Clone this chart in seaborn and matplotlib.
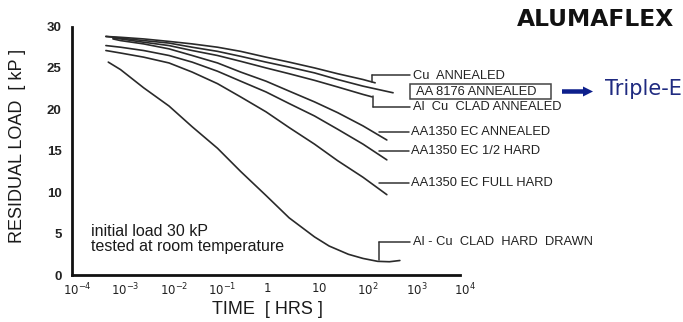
import matplotlib
matplotlib.use("Agg")
import matplotlib.pyplot as plt
from matplotlib.lines import Line2D
from matplotlib.patches import Rectangle, FancyArrow
from matplotlib.transforms import IdentityTransform, ScaledTranslation
import seaborn as sns
import pandas as pd

# ---------------- data ----------------
t_cu = [5e-4, 1e-3, 3e-3, 1e-2, 3e-2, 0.1, 0.3, 1, 3, 10, 30, 100, 178]
load_cu = [28.8, 28.7, 28.5, 28.2, 27.9, 27.5, 27.0, 26.3, 25.7, 25.0, 24.3, 23.6, 23.2]

t_aa8176 = [5e-4, 1e-3, 3e-3, 1e-2, 3e-2, 0.1, 0.3, 1, 3, 10, 30, 100, 417]
load_aa8176 = [28.8, 28.6, 28.3, 28.0, 27.5, 27.0, 26.4, 25.7, 25.1, 24.4, 23.6, 22.8, 22.0]

t_alcu_ann = [7e-4, 1e-3, 3e-3, 1e-2, 3e-2, 0.1, 0.3, 1, 3, 10, 30, 100, 155]
load_alcu_ann = [28.6, 28.5, 28.1, 27.7, 27.1, 26.5, 25.8, 25.0, 24.3, 23.5, 22.7, 21.8, 21.5]

t_ec_ann = [7e-4, 1e-3, 3e-3, 1e-2, 3e-2, 0.1, 0.3, 1, 3, 10, 30, 100, 310]
load_ec_ann = [28.5, 28.3, 27.9, 27.3, 26.5, 25.6, 24.5, 23.4, 22.2, 20.9, 19.6, 18.0, 16.3]

t_ec_half = [5e-4, 1e-3, 3e-3, 1e-2, 3e-2, 0.1, 0.3, 1, 3, 10, 30, 100, 310]
load_ec_half = [27.7, 27.5, 27.1, 26.5, 25.7, 24.6, 23.4, 22.1, 20.7, 19.2, 17.6, 15.8, 13.9]

t_ec_full = [5e-4, 1e-3, 3e-3, 1e-2, 3e-2, 0.1, 0.3, 1, 3, 10, 30, 100, 310]
load_ec_full = [27.1, 26.8, 26.3, 25.6, 24.5, 23.1, 21.5, 19.7, 17.8, 15.8, 13.8, 11.8, 9.7]

t_hard = [5.6e-4, 1e-3, 3e-3, 1e-2, 3e-2, 0.1, 0.3, 1, 3, 10, 20, 50, 100, 200, 350, 575]
load_hard = [25.7, 24.8, 22.6, 20.4, 17.9, 15.3, 12.5, 9.6, 6.9, 4.6, 3.5, 2.5, 2.0, 1.65, 1.6, 1.75]

series_names = ["Cu  ANNEALED", "AA 8176 ANNEALED", "Al  Cu  CLAD ANNEALED",
                "AA1350 EC ANNEALED", "AA1350 EC 1/2 HARD", "AA1350 EC FULL HARD",
                "Al - Cu  CLAD  HARD  DRAWN"]
series_t = [t_cu, t_aa8176, t_alcu_ann, t_ec_ann, t_ec_half, t_ec_full, t_hard]
series_y = [load_cu, load_aa8176, load_alcu_ann, load_ec_ann, load_ec_half, load_ec_full, load_hard]

x_ticks = [1e-4, 1e-3, 1e-2, 1e-1, 1, 10, 1e2, 1e3, 1e4]
x_tick_labels = [r"$10^{-4}$", r"$10^{-3}$", r"$10^{-2}$", r"$10^{-1}$", r"$1$", r"$10$",
                 r"$10^{2}$", r"$10^{3}$", r"$10^{4}$"]
y_ticks = [0, 5, 10, 15, 20, 25, 30]

rows = []
for name, ts, ys in zip(series_names, series_t, series_y):
    for t, y in zip(ts, ys):
        rows.append({"series": name, "time": t, "load": y})
df = pd.DataFrame(rows)

# ---------------- figure ----------------
sns.set_style("white")
plt.rcParams["font.family"] = ["Liberation Sans", "DejaVu Sans"]
W, H = 683, 322
fig = plt.figure(figsize=(W / 100, H / 100), dpi=100)
fig.patch.set_facecolor("white")
ax = fig.add_axes([72 / W, 1 - 275 / H, (460 - 72) / W, (275 - 26.5) / H])
ax.set_facecolor("white")

sns.lineplot(data=df, x="time", y="load", hue="series", palette=["#2a2a2a"] * 7,
             estimator=None, sort=False, legend=False, linewidth=1.2, ax=ax)

ax.set_xscale("log")
ax.set_xlim(1e-4, 1e4)
ax.set_ylim(0, 30)
ax.set_xlabel("")
ax.set_ylabel("")
for s in ["top", "right"]:
    ax.spines[s].set_visible(False)
for s in ["left", "bottom"]:
    ax.spines[s].set_linewidth(2.0)
    ax.spines[s].set_color("#111111")
ax.set_xticks(x_ticks)
ax.set_xticklabels(x_tick_labels)
ax.minorticks_off()
ax.set_yticks(y_ticks)
ax.tick_params(axis="both", direction="inout", length=7, width=1.6, color="#111111")
ax.tick_params(axis="x", pad=1.5, labelsize=8.5, labelcolor="#222222")
ax.tick_params(axis="y", pad=4, labelsize=9.5, labelcolor="#222222")
for lbl in ax.get_yticklabels():
    lbl.set_fontweight("bold")
for lbl, txt in zip(ax.get_xticklabels(), x_tick_labels):
    dx = 1 if txt == r"$1$" else 5
    lbl.set_transform(lbl.get_transform() + ScaledTranslation(dx / 100, 0, fig.dpi_scale_trans))


def fx(px):
    return px / W


def fy(py):
    return 1 - py / H


ink = "#1a1a1a"
fig.text(fx(18), fy(146), "RESIDUAL LOAD  [ kP ]", rotation=90, ha="center", va="center",
         fontsize=13, color=ink)
fig.text(fx(267), fy(310), "TIME  [ HRS ]", ha="center", va="center", fontsize=13, color=ink)
fig.text(fx(91), fy(231), "initial load 30 kP", ha="left", va="center", fontsize=11.5, color=ink)
fig.text(fx(91), fy(246), "tested at room temperature", ha="left", va="center", fontsize=11.5,
         color=ink)
fig.text(fx(517), fy(20), "ALUMAFLEX", ha="left", va="center", fontsize=16.8,
         fontweight="bold", family="DejaVu Sans", color="#111111")

# curve labels
label_pos = [(413, 76), (416, 92), (413, 107), (411, 132), (411, 151), (411, 183), (413, 242)]
for name, (lx, ly) in zip(series_names, label_pos):
    fig.text(fx(lx), fy(ly), name, ha="left", va="center", fontsize=9.3, color="#222222")

ID = IdentityTransform()


def seg(x0, y0, x1, y1):
    fig.add_artist(Line2D([x0, x1], [H - y0, H - y1], transform=ID, color="#333333", lw=1.1))


# leaders
seg(372, 75, 410, 75); seg(372, 75, 372, 82)                 # Cu annealed
seg(373, 96, 373, 107); seg(373, 107, 410, 107)              # Al Cu clad annealed
seg(379, 132, 409, 132)                                      # EC annealed
seg(379, 151, 409, 151)                                      # EC 1/2 hard
seg(379, 183, 409, 183)                                      # EC full hard
seg(379, 242, 379, 260); seg(379, 242, 410, 242)             # hard drawn

# box around AA 8176
fig.add_artist(Rectangle((410, H - 99), 141, 15, transform=ID, fill=False,
                         ec="#444444", lw=1.1))

# arrow and Triple-E
navy = "#0d1f8c"
fig.add_artist(FancyArrow(562, H - 91.5, 31, 0, width=4.5, head_width=10, head_length=10,
                          length_includes_head=True, transform=ID, color=navy, lw=0))
fig.text(fx(605), fy(89), "Triple-E", ha="left", va="center", fontsize=15,
         family="DejaVu Sans", color="#1f2a80")

fig.savefig("out.png", dpi=100, facecolor="white")
